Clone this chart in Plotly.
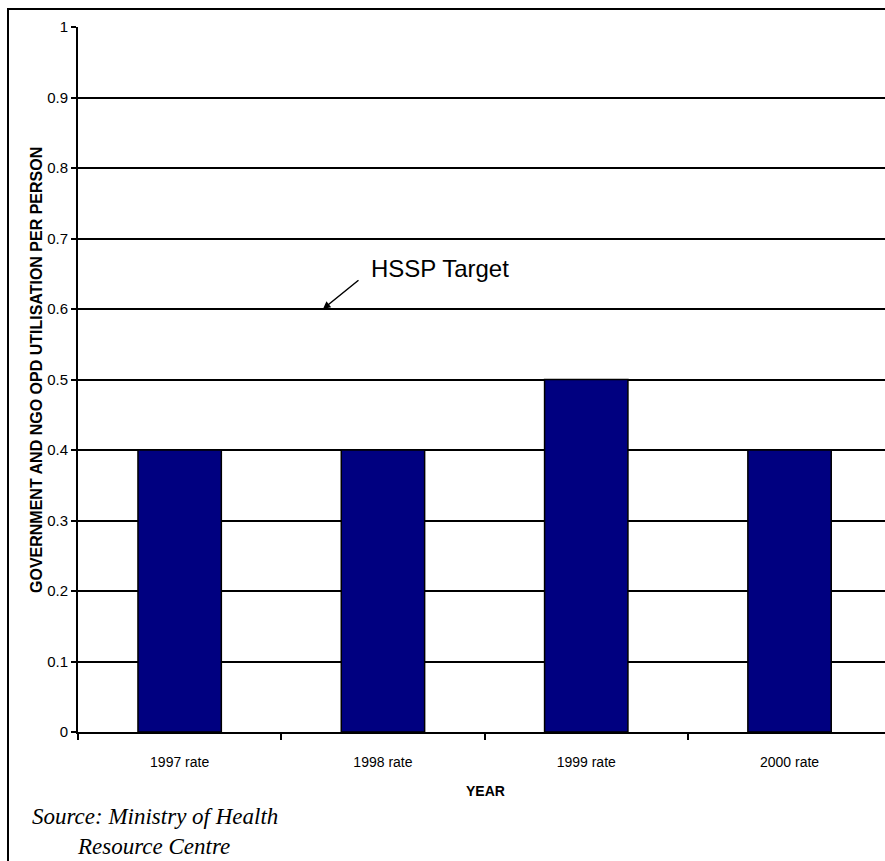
import plotly.graph_objects as go

# Government and NGO outpatient utilisation per person, by year
years = ["1997 rate", "1998 rate", "1999 rate", "2000 rate"]
utilisation = [0.4, 0.4, 0.5, 0.4]
y_ticks = [0, 0.1, 0.2, 0.3, 0.4, 0.5, 0.6, 0.7, 0.8, 0.9, 1]
y_tick_text = ["0", "0.1", "0.2", "0.3", "0.4", "0.5", "0.6", "0.7", "0.8", "0.9", "1"]
hssp_target = 0.6

SANS = "Liberation Sans, Arial, sans-serif"
SERIF = "Liberation Serif, Times New Roman, serif"

W, H = 885, 861
ML, MT, MB = 78, 27, 129
plot_w = W - ML
plot_h = H - MT - MB
cat_px = 203.3  # pixel width of one category slot


def px_x(px):
    return (px - ML) / plot_w


def px_y(py):
    return (H - MB - py) / plot_h


fig = go.Figure(
    go.Bar(
        x=years,
        y=utilisation,
        width=0.41,
        marker=dict(color="#000080", line=dict(color="#000000", width=1.5)),
    )
)

fig.update_layout(
    width=W,
    height=H,
    margin=dict(l=ML, r=0, t=MT, b=MB, pad=0),
    paper_bgcolor="white",
    plot_bgcolor="white",
    showlegend=False,
    font=dict(family=SANS, color="black"),
)

fig.update_xaxes(
    type="category",
    range=[-0.5, -0.5 + plot_w / cat_px],
    tickson="boundaries",
    ticks="outside",
    ticklen=6,
    tickwidth=1.5,
    tickcolor="black",
    showgrid=False,
    showline=True,
    linecolor="black",
    linewidth=2,
    tickfont=dict(size=14, family=SANS, color="black"),
    ticklabelstandoff=16,
)

fig.update_yaxes(
    range=[0, 1],
    tickvals=y_ticks,
    ticktext=y_tick_text,
    ticks="outside",
    ticklen=5,
    tickwidth=1.5,
    tickcolor="black",
    showgrid=True,
    gridcolor="black",
    gridwidth=2,
    zeroline=False,
    showline=True,
    linecolor="black",
    linewidth=2,
    tickfont=dict(size=15, family=SANS, color="black"),
    ticklabelstandoff=0,
)

annotations = [
    # axis titles
    dict(
        text="<b>GOVERNMENT AND NGO OPD UTILISATION PER PERSON</b>",
        xref="paper", yref="paper",
        x=px_x(36), y=px_y(370),
        xanchor="center", yanchor="middle",
        textangle=-90, showarrow=False,
        font=dict(size=16, family=SANS, color="black"),
    ),
    dict(
        text="<b>YEAR</b>",
        xref="paper", yref="paper",
        x=px_x(485), y=px_y(791),
        xanchor="center", yanchor="middle",
        showarrow=False,
        font=dict(size=14, family=SANS, color="black"),
    ),
    # target label and pointer to the target gridline
    dict(
        text="HSSP Target",
        xref="paper", yref="paper",
        x=px_x(369), y=px_y(268),
        xanchor="left", yanchor="middle",
        showarrow=False,
        font=dict(size=24, family=SANS, color="black"),
    ),
    dict(
        text="",
        x=0.705, y=hssp_target,
        xref="x", yref="y",
        ax=37, ay=-30,
        showarrow=True,
        arrowhead=2, arrowsize=1, arrowwidth=1.5,
        arrowcolor="black",
    ),
    # source note (two lines, second indented)
    dict(
        text="<i>Source: Ministry of Health<br>" + "&nbsp;" * 8 + "Resource Centre</i>",
        xref="paper", yref="paper",
        x=px_x(30), y=px_y(831),
        xanchor="left", yanchor="middle",
        align="left",
        showarrow=False,
        font=dict(size=23, family=SERIF, color="black"),
    ),
]
fig.update_layout(annotations=annotations)

# outer frame around the whole chart
fig.add_shape(
    type="rect",
    xref="paper", yref="paper",
    x0=px_x(8), x1=px_x(W + 20),
    y0=px_y(H + 20), y1=px_y(9),
    line=dict(color="black", width=2),
    fillcolor="rgba(0,0,0,0)",
    layer="above",
)

fig.write_html("out.html")
